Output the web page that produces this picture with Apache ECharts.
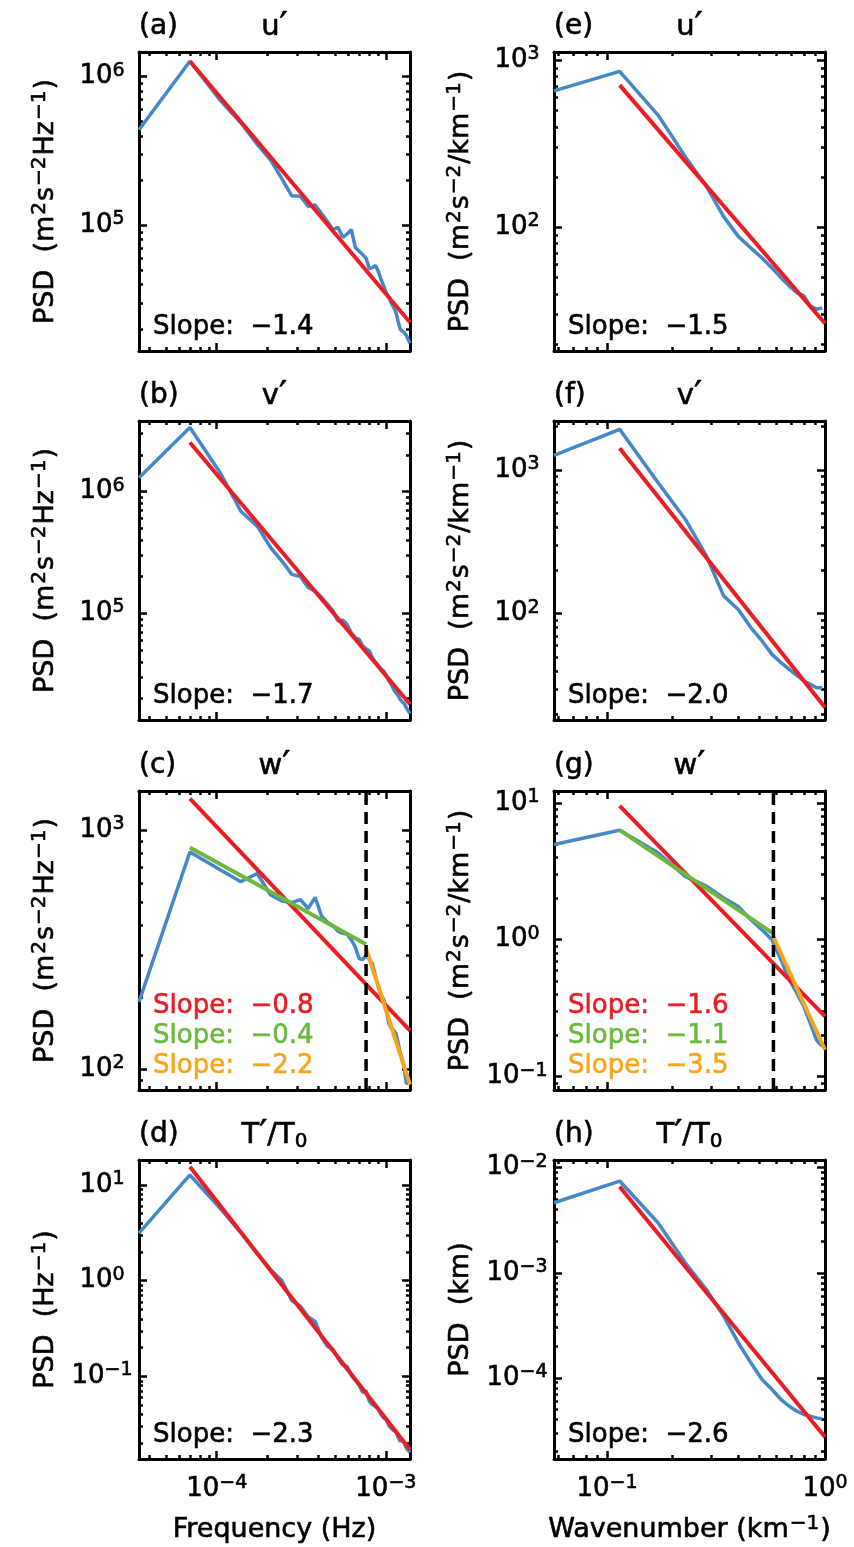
<!DOCTYPE html>
<html>
<head>
<meta charset="utf-8">
<script src="https://cdn.jsdelivr.net/npm/echarts@6/dist/echarts.min.js"></script>
<style>
html, body { margin: 0; padding: 0; background: #fff; }
#chart { width: 854px; height: 1547px; }
</style>
</head>
<body>
<div id="chart"></div>
<script>
// frequency (Hz) and wavenumber (km^-1) grids
var freq = [3.472e-5, 6.944e-5, 1.0417e-4, 1.3889e-4, 1.7361e-4, 2.0833e-4, 2.4306e-4, 2.7778e-4, 3.125e-4, 3.4722e-4,
    3.8194e-4, 4.1667e-4, 4.5139e-4, 4.8611e-4, 5.2083e-4, 5.5556e-4, 5.9028e-4, 6.25e-4, 6.5972e-4, 6.9444e-4,
    7.2917e-4, 7.6389e-4, 7.9861e-4, 8.3333e-4, 8.6806e-4, 9.0278e-4, 9.375e-4, 9.7222e-4, 1.00694e-3, 1.04167e-3,
    1.07639e-3, 1.11111e-3, 1.14583e-3, 1.18056e-3, 1.21528e-3, 1.25e-3, 1.28472e-3, 1.31944e-3, 1.35417e-3, 1.38889e-3];
var wavenum = [0.0571, 0.1143, 0.1714, 0.2286, 0.2857, 0.3429, 0.4, 0.4571, 0.5143, 0.5714,
    0.6286, 0.6857, 0.7429, 0.8, 0.8571, 0.9143, 0.9714];

var freqRange = [3.472e-5, 1.38889e-3];
var wnRange = [0.05714, 1.0];

// PSD vs frequency
var psdU_f = [4.4e5, 1.27e6, 7.0e5, 4.9e5, 3.5e5, 2.75e5, 2.05e5, 1.58e5, 1.57e5, 1.34e5,
    1.37e5, 1.2e5, 1.06e5, 9.35e4, 9.7e4, 8.3e4, 8.75e4, 9.35e4, 7.1e4, 6.7e4,
    6.35e4, 6.0e4, 5.1e4, 5.2e4, 5.36e4, 4.9e4, 4.3e4, 3.9e4, 3.5e4, 3.27e4,
    3.0e4, 2.8e4, 2.6e4, 2.26e4, 2.0e4, 1.94e4, 1.9e4, 1.82e4, 1.71e4, 1.61e4];
var psdV_f = [1.30e6, 3.36e6, 1.45e6, 6.9e5, 5.2e5, 3.47e5, 2.69e5, 2.09e5, 2.0e5, 1.63e5,
    1.52e5, 1.35e5, 1.19e5, 1.05e5, 8.65e4, 8.8e4, 8.1e4, 6.9e4, 6.3e4, 6.1e4,
    5.4e4, 5.1e4, 4.9e4, 4.3e4, 3.98e4, 3.69e4, 3.5e4, 3.36e4, 3.05e4, 2.78e4,
    2.61e4, 2.37e4, 2.23e4, 2.12e4, 1.96e4, 1.87e4, 1.82e4, 1.68e4, 1.63e4, 1.5e4];
var psdW_f = [191, 811, 684, 608, 659, 535, 505, 497, 512, 470,
    523, 437, 412, 398, 378, 370, 367, 347, 324, 290,
    287, 299, 288, 275, 245, 221, 204, 195, 174, 155,
    148, 145, 141, 129, 117, 110, 101, 87, 87, 87];
var psdT_f = [3.13, 12.7, 5.75, 3.18, 1.9, 1.3, 1.0, 0.62, 0.54, 0.42,
    0.375, 0.257, 0.206, 0.193, 0.155, 0.132, 0.127, 0.103, 0.0908, 0.0818,
    0.068, 0.0708, 0.055, 0.0506, 0.0486, 0.0456, 0.0398, 0.0367, 0.0353, 0.0306,
    0.0288, 0.0273, 0.0267, 0.0233, 0.021, 0.0219, 0.0201, 0.0179, 0.0172, 0.0161];

// PSD vs wavenumber
var psdU_k = [656, 859, 470, 265, 176, 116, 88.3, 75.3, 65.6, 57.2, 49.9, 44.5, 40.6, 38.9, 33.8, 32.3, 33.0];
var psdV_k = [1265, 1919, 816, 454, 252, 133, 107, 80, 64.6, 52.1, 45.6, 41, 37.2, 34, 32.2, 30.5, 30.5];
var psdW_k = [4.96, 6.31, 4.31, 2.9, 2.46, 2.02, 1.75, 1.4, 1.18, 1.0, 0.714, 0.51, 0.407, 0.325, 0.245, 0.185, 0.166];
var psdT_k = [4.64e-3, 7.46e-3, 2.99e-3, 1.245e-3, 6.93e-4, 3.87e-4, 2.16e-4, 1.39e-4, 9.64e-5, 7.74e-5,
    6.22e-5, 5.37e-5, 4.82e-5, 4.48e-5, 4.32e-5, 4.16e-5, 4.07e-5];

// fitted power laws (end points)
var fitU_f = [[6.944e-5, 1.27e6], [1.38889e-3, 2.22e4]];
var fitV_f = [[6.944e-5, 2.53e6], [1.38889e-3, 1.79e4]];
var fitW_f = [[6.944e-5, 1357], [1.38889e-3, 144.6]];
var fitW_f_low = [[6.944e-5, 846], [7.6389e-4, 333]];
var fitW_f_high = [[7.6389e-4, 320], [1.38889e-3, 86]];
var fitT_f = [[6.944e-5, 15.5], [1.38889e-3, 0.01718]];
var fitU_k = [[0.1143, 710], [1.0, 26.6]];
var fitV_k = [[0.1143, 1416], [1.0, 22.2]];
var fitW_k = [[0.1143, 9.5], [1.0, 0.275]];
var fitW_k_low = [[0.1143, 6.31], [0.58, 1.106]];
var fitW_k_high = [[0.58, 1.046], [1.0, 0.157]];
var fitT_k = [[0.1143, 6.59e-3], [1.0, 2.74e-5]];
var breakF = 7.6389e-4, breakK = 0.58;

var yRanges = {
    a: [1.426e4, 1.466e6], b: [1.33e4, 3.8e6], c: [81.6, 1460], d: [0.01374, 18.2],
    e: [18.2, 1121], f: [18.2, 2191], g: [0.0798, 12.2], h: [1.69e-5, 0.01183]
};

var RED = '#ec1c24', GREEN = '#6cb83f', ORANGE = '#f8a51c', BLUE = '#4687c8';
var FONT = 'DejaVu Sans';
var BW = 0.6; // thin outline to thicken glyphs a little

var colLeft = [139, 554], rowTop = [52, 421, 791, 1160], boxW = 271, boxH = 299;

var nameF = '{b|PSD  (m}{s|2}{b|s}{s|−2}{b|Hz}{s|−1}{b|)}';
var nameK = '{b|PSD  (m}{s|2}{b|s}{s|−2}{b|/km}{s|−1}{b|)}';

var panels = [
    {tag: '(a)', title: 'u', col: 0, row: 0, x: freq, y: psdU_f, yr: yRanges.a, name: nameF,
        fits: [[fitU_f, RED]], slopes: [['−1.4', '#000']]},
    {tag: '(b)', title: 'v', col: 0, row: 1, x: freq, y: psdV_f, yr: yRanges.b, name: nameF,
        fits: [[fitV_f, RED]], slopes: [['−1.7', '#000']]},
    {tag: '(c)', title: 'w', col: 0, row: 2, x: freq, y: psdW_f, yr: yRanges.c, name: nameF,
        fits: [[fitW_f, RED], [fitW_f_low, GREEN], [fitW_f_high, ORANGE]], brk: breakF,
        slopes: [['−0.8', RED], ['−0.4', GREEN], ['−2.2', ORANGE]]},
    {tag: '(d)', title: 'T', col: 0, row: 3, x: freq, y: psdT_f, yr: yRanges.d, name: '{b|PSD  (Hz}{s|−1}{b|)}',
        fits: [[fitT_f, RED]], slopes: [['−2.3', '#000']]},
    {tag: '(e)', title: 'u', col: 1, row: 0, x: wavenum, y: psdU_k, yr: yRanges.e, name: nameK,
        fits: [[fitU_k, RED]], slopes: [['−1.5', '#000']]},
    {tag: '(f)', title: 'v', col: 1, row: 1, x: wavenum, y: psdV_k, yr: yRanges.f, name: nameK,
        fits: [[fitV_k, RED]], slopes: [['−2.0', '#000']]},
    {tag: '(g)', title: 'w', col: 1, row: 2, x: wavenum, y: psdW_k, yr: yRanges.g, name: nameK,
        fits: [[fitW_k, RED], [fitW_k_low, GREEN], [fitW_k_high, ORANGE]], brk: breakK,
        slopes: [['−1.6', RED], ['−1.1', GREEN], ['−3.5', ORANGE]]},
    {tag: '(h)', title: 'T', col: 1, row: 3, x: wavenum, y: psdT_k, yr: yRanges.h, name: '{b|PSD  (km)}',
        fits: [[fitT_k, RED]], slopes: [['−2.6', '#000']]}
];

var rich = {
    b: {fontSize: 26, fontFamily: FONT, color: '#000', lineHeight: 31, textBorderColor: '#000', textBorderWidth: BW},
    s: {fontSize: 19, fontFamily: FONT, color: '#000', lineHeight: 19, verticalAlign: 'top',
        textBorderColor: '#000', textBorderWidth: BW}
};
var nameRich = {
    b: {fontSize: 27, fontFamily: FONT, color: '#000', lineHeight: 32, textBorderColor: '#000', textBorderWidth: BW},
    s: {fontSize: 20, fontFamily: FONT, color: '#000', lineHeight: 20, verticalAlign: 'top', padding: [0, 1, 0, 1],
        textBorderColor: '#000', textBorderWidth: BW}
};

function powLabel(v) {
    var e = Math.round(Math.log10(v));
    if (Math.abs(v / Math.pow(10, e) - 1) > 1e-6) return '';
    return '{b|10}{s|' + (e < 0 ? '−' + (-e) : e) + '}';
}

function logAxis(gi, range, pos, labels) {
    return {
        type: 'log', logBase: 10, gridIndex: gi, position: pos,
        min: range[0], max: range[1],
        axisLine: {show: true, onZero: false, lineStyle: {color: '#000', width: 3}},
        axisTick: {show: true, inside: true, length: 8, lineStyle: {color: '#000', width: 2.5}},
        minorTick: {show: true, splitNumber: 9, length: 4, lineStyle: {color: '#000', width: 2.5}},
        splitLine: {show: false},
        minorSplitLine: {show: false},
        axisLabel: {show: labels, formatter: powLabel, rich: rich, hideOverlap: false}
    };
}

function zip(xs, ys) {
    return xs.map(function (x, i) { return [x, ys[i]]; });
}

var grids = [], xAxes = [], yAxes = [], series = [], graphics = [];

panels.forEach(function (p, i) {
    var left = colLeft[p.col], top = rowTop[p.row];
    var xr = p.col === 0 ? freqRange : wnRange;
    grids.push({left: left, top: top, width: boxW, height: boxH, outerBoundsMode: 'none'});

    var xb = logAxis(i, xr, 'bottom', p.row === 3);
    xb.axisLabel.margin = 15;
    if (p.row === 3) {
        xb.name = p.col === 0 ? '{b|Frequency (Hz)}' : '{b|Wavenumber (km}{s|−1}{b|)}';
        xb.nameLocation = 'middle';
        xb.nameGap = 55;
        xb.nameTextStyle = {rich: nameRich};
    }
    xAxes.push(xb);
    xAxes.push(logAxis(i, xr, 'top', false));

    var yl = logAxis(i, p.yr, 'left', true);
    yl.axisLabel.margin = 37;
    yl.axisLabel.align = 'center';
    yl.name = p.name;
    yl.nameLocation = 'middle';
    yl.nameRotate = 90;
    yl.nameGap = 77;
    yl.nameTextStyle = {rich: nameRich};
    yAxes.push(yl);
    yAxes.push(logAxis(i, p.yr, 'right', false));

    var ax = {xAxisIndex: 2 * i, yAxisIndex: 2 * i};
    series.push(Object.assign({
        type: 'line', data: zip(p.x, p.y), showSymbol: false, symbol: 'none',
        lineStyle: {color: BLUE, width: 3.5}, z: 2
    }, ax));
    p.fits.forEach(function (f, k) {
        series.push(Object.assign({
            type: 'line', data: f[0], showSymbol: false, symbol: 'none',
            lineStyle: {color: f[1], width: 4}, z: 3 + k
        }, ax));
    });
    if (p.brk) {
        series.push(Object.assign({
            type: 'line', data: [[p.brk, p.yr[0]], [p.brk, p.yr[1]]], showSymbol: false, symbol: 'none',
            lineStyle: {color: '#000', width: 3.5, type: [12, 7]}, z: 6
        }, ax));
    }

    // panel tag and variable title
    graphics.push({type: 'text', x: left, y: top - 25,
        style: {text: p.tag, fontSize: 28, fontFamily: FONT, fill: '#000', align: 'left', verticalAlign: 'middle',
            stroke: '#000', lineWidth: BW}});
    var ttl = p.title === 'T' ? '{m|T}{p|′}{m|/T}{sub|0}' : '{m|' + p.title + '}{p|′}';
    var tStyle = {fontFamily: FONT, fill: '#000', stroke: '#000', lineWidth: BW};
    graphics.push({type: 'text', x: left + boxW / 2, y: top - 25,
        style: {text: ttl, align: 'center', verticalAlign: 'middle',
            rich: {
                m: Object.assign({fontSize: 29, lineHeight: 34}, tStyle),
                p: Object.assign({fontSize: 36, lineHeight: 34, verticalAlign: 'top'}, tStyle),
                sub: Object.assign({fontSize: 20, lineHeight: 20, verticalAlign: 'bottom'}, tStyle)
            }}});
    var n = p.slopes.length;
    p.slopes.forEach(function (s, k) {
        graphics.push({type: 'text', x: left + 14, y: top + boxH - 24 - (n - 1 - k) * 30,
            style: {text: 'Slope:  ' + s[0], fontSize: 26, fontFamily: FONT, fill: s[1],
                stroke: s[1], lineWidth: BW, align: 'left', verticalAlign: 'middle'}});
    });
});

var chart = echarts.init(document.getElementById('chart'), null, {renderer: 'canvas'});
chart.setOption({
    animation: false,
    backgroundColor: '#fff',
    textStyle: {fontFamily: FONT},
    grid: grids,
    xAxis: xAxes,
    yAxis: yAxes,
    series: series,
    graphic: graphics
});
</script>
</body>
</html>
